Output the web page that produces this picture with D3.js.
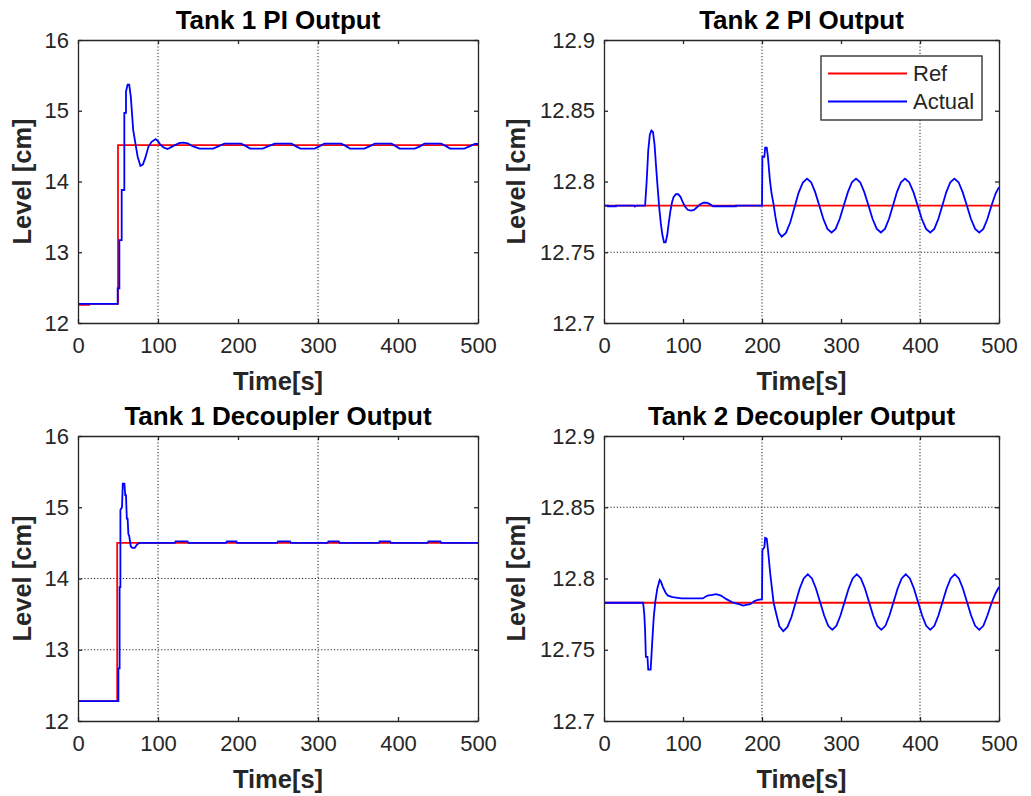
<!DOCTYPE html>
<html>
<head>
<meta charset="utf-8">
<script src="https://cdn.jsdelivr.net/npm/d3@7"></script>
<style>
  body { margin: 0; background: #fff; }
  svg { display: block; font-family: "Liberation Sans", Arial, sans-serif; }
</style>
</head>
<body>
<div id="chart"></div>
<script>
// ---- data ----
const timeTicks = [0, 100, 200, 300, 400, 500];
const tank1Ticks = [12, 13, 14, 15, 16];
const tank2Ticks = [12.7, 12.75, 12.8, 12.85, 12.9];
const tank2TickLabels = ["12.7", "12.75", "12.8", "12.85", "12.9"];
const panelTitles = ["Tank 1 PI Output", "Tank 2 PI Output", "Tank 1 Decoupler Output", "Tank 2 Decoupler Output"];
const legendLabels = ["Ref", "Actual"];
const seriesColors = ["#ff0000", "#0000ff"];

// dotted grid lines that are switched on in each panel
const gridTimes = [[100, 300], [200, 400], [100, 300], [200, 400]];
const gridLevels = [[], [12.75], [13, 14], [12.85]];

const tank1PiRef = [[0,12.255],[14,12.255],[14,12.27],[50,12.27],[50,14.515],[500,14.515]];
const tank1PiActual = [[0,12.27],[49.6,12.27],[49.6,12.49],[51.7,12.49],[51.7,13.17],[54.6,13.17],[54.6,13.88],
  [57.9,13.88],[57.9,14.97],[60,14.97],[60,15.27],[62,15.37],[64,15.37],[66,15.2],[69,14.73],[72,14.52],
  [74.6,14.35],[78,14.22],[81,14.24],[84,14.33],[88,14.49],[92,14.56],[97,14.6],[100,14.57],[103,14.52],
  [107,14.48],[112,14.46],[117,14.49],[122,14.52],[127,14.545],[132,14.55],[137,14.54],[143,14.5],
  [152,14.465],[169,14.465],[176,14.5],[183,14.535],[204,14.535],[210,14.5],[215,14.465],[231,14.465],
  [238,14.5],[246,14.535],[267,14.535],[272,14.5],[278,14.465],[296,14.465],[302,14.5],[308,14.535],
  [329,14.535],[335,14.5],[340,14.465],[358,14.465],[365,14.5],[371,14.535],[392,14.535],[397,14.5],
  [402,14.465],[421,14.465],[428,14.5],[433,14.535],[454,14.535],[460,14.5],[465,14.465],[483,14.465],
  [490,14.5],[496,14.53],[500,14.53]];

const tank2PiRef = [[0,12.783],[500,12.783]];
const tank2PiActual = [[0,12.783],[5,12.783],[5,12.7825],[15,12.7825],[15,12.783],[38,12.783],[39,12.7823],
  [41,12.783],[52,12.783],[54,12.8],[56,12.822],[58,12.833],[60,12.836],[62,12.835],[64,12.826],[66,12.81],
  [68,12.795],[70,12.781],[72,12.77],[74,12.762],[76,12.757],[78,12.757],[80,12.762],[82,12.771],[84,12.779],
  [86,12.785],[88,12.789],[91,12.791],[94,12.791],[97,12.789],[100,12.785],[103,12.782],[106,12.78],
  [110,12.7795],[114,12.78],[118,12.782],[122,12.784],[126,12.785],[130,12.785],[134,12.784],[138,12.7825],
  [167,12.7825],[167,12.783],[200,12.783],[200.5,12.8175],[203,12.8175],[204,12.824],[206,12.824],
  [207.5,12.8175],[210,12.801],[212,12.792],[214.6,12.784],[217,12.775],[219,12.769],[221,12.764],
  [225,12.761],[230.3,12.7637],[235.7,12.771],[241,12.7815],[246.3,12.792],[251.7,12.7993],[257,12.802],
  [262.2,12.7995],[267.3,12.7925],[272.5,12.783],[277.7,12.7735],[282.8,12.7665],[288,12.764],
  [293.2,12.7665],[298.3,12.7735],[303.5,12.783],[308.7,12.7925],[313.8,12.7995],[319,12.802],
  [324.3,12.7995],[329.5,12.7925],[334.8,12.783],[340,12.7735],[345.3,12.7665],[350.5,12.764],
  [355.6,12.7665],[360.7,12.7735],[365.8,12.783],[370.8,12.7925],[375.9,12.7995],[381,12.802],
  [386.3,12.7995],[391.7,12.7925],[397,12.783],[402.3,12.7735],[407.7,12.7665],[413,12.764],
  [418.1,12.7665],[423.2,12.7735],[428.3,12.783],[433.3,12.7925],[438.4,12.7995],[443.5,12.802],
  [448.8,12.7995],[454,12.7925],[459.3,12.783],[464.5,12.7735],[469.8,12.7665],[475,12.764],
  [480.2,12.7665],[485.3,12.7735],[490.5,12.783],[495.7,12.7915],[500,12.796]];

const tank1DecRef = [[0,12.28],[49,12.28],[49,14.5],[500,14.5]];
const tank1DecActual = [[0,12.28],[50.5,12.28],[50.5,12.74],[52,12.74],[52,13.88],[53,13.88],[53,14.96],
  [55,15.0],[56,15.33],[58,15.33],[59,15.17],[60,15.17],[61,14.84],[62,14.84],[63,14.62],[64,14.6],
  [66,14.45],[68,14.43],[71,14.43],[74,14.48],[77,14.5],[121,14.5],[122,14.52],[137,14.52],[138,14.5],
  [185,14.5],[186,14.52],[198,14.52],[199,14.5],[249,14.5],[250,14.52],[265,14.52],[266,14.5],
  [312,14.5],[313,14.52],[326,14.52],[327,14.5],[376,14.5],[377,14.52],[390,14.52],[391,14.5],
  [437,14.5],[438,14.52],[453,14.52],[454,14.5],[500,14.5]];

const tank2DecRef = [[0,12.783],[500,12.783]];
const tank2DecActual = [[0,12.783],[49.5,12.783],[51,12.775],[52,12.764],[53,12.745],[55,12.745],
  [56,12.736],[59,12.736],[60,12.745],[61,12.755],[63,12.773],[65,12.784],[67.5,12.793],[70.5,12.799],
  [72,12.798],[74.6,12.794],[78,12.79],[81,12.788],[87,12.787],[98,12.786],[125,12.786],[131,12.788],
  [137,12.7885],[142,12.789],[148,12.788],[155,12.7855],[163.5,12.783],[172,12.7818],[176,12.781],
  [180,12.7815],[185,12.782],[190,12.784],[193.5,12.7848],[200,12.7855],[200.5,12.82],[203,12.822],
  [204,12.8285],[206,12.828],[207.6,12.82],[210.5,12.803],[214.7,12.783],[219,12.773],[222,12.7665],
  [227,12.763],[232.2,12.766],[237.3,12.773],[242.5,12.783],[247.7,12.793],[252.8,12.8],[258,12.803],
  [263.2,12.8],[268.3,12.793],[273.5,12.7835],[278.7,12.774],[283.8,12.7668],[289,12.764],
  [294.2,12.7668],[299.3,12.774],[304.5,12.7835],[309.7,12.793],[314.8,12.8],[320,12.803],
  [325.2,12.8],[330.3,12.793],[335.5,12.7835],[340.7,12.774],[345.8,12.7668],[351,12.764],
  [356.2,12.7668],[361.3,12.774],[366.5,12.7835],[371.7,12.793],[376.8,12.8],[382,12.803],
  [387.2,12.8],[392.3,12.793],[397.5,12.7835],[402.7,12.774],[407.8,12.7668],[413,12.764],
  [418.2,12.7668],[423.3,12.774],[428.5,12.7835],[433.7,12.793],[438.8,12.8],[444,12.803],
  [449.2,12.8],[454.3,12.793],[459.5,12.7835],[464.7,12.774],[469.8,12.7668],[475,12.764],
  [480.2,12.7668],[485.3,12.774],[491,12.7835],[496,12.79],[500,12.794]];

// ---- layout ----
const W = 1031, H = 796;
const svg = d3.select("#chart").append("svg").attr("width", W).attr("height", H);

const panels = [
  {x0: 78,  x1: 478, y0: 40,  y1: 323, yl: 47, ticks: tank1Ticks, labels: tank1Ticks.map(String), ref: tank1PiRef, act: tank1PiActual},
  {x0: 604, x1: 999, y0: 40,  y1: 323, yl: 79, ticks: tank2Ticks, labels: tank2TickLabels, ref: tank2PiRef, act: tank2PiActual, legend: true},
  {x0: 78,  x1: 478, y0: 436, y1: 721, yl: 47, ticks: tank1Ticks, labels: tank1Ticks.map(String), ref: tank1DecRef, act: tank1DecActual},
  {x0: 604, x1: 999, y0: 436, y1: 721, yl: 79, ticks: tank2Ticks, labels: tank2TickLabels, ref: tank2DecRef, act: tank2DecActual}
];

const axisCol = "#262626";

panels.forEach(function(p, i){
  var x = d3.scaleLinear().domain([0, 500]).range([p.x0, p.x1]);
  var y = d3.scaleLinear().domain([p.ticks[0], p.ticks[p.ticks.length-1]]).range([p.y1, p.y0]);
  var g = svg.append("g").attr("class", "panel" + i);

  g.append("rect").attr("x", p.x0).attr("y", p.y0).attr("width", p.x1 - p.x0).attr("height", p.y1 - p.y0)
    .style("fill", "#fff");

  // grid
  g.selectAll(".vgrid").data(gridTimes[i]).enter().append("line")
    .attr("x1", d => x(d)).attr("x2", d => x(d)).attr("y1", p.y0).attr("y2", p.y1)
    .style("stroke", "#222").style("stroke-width", 1).style("stroke-dasharray", "1.2,2");
  g.selectAll(".hgrid").data(gridLevels[i]).enter().append("line")
    .attr("y1", d => y(d)).attr("y2", d => y(d)).attr("x1", p.x0).attr("x2", p.x1)
    .style("stroke", "#222").style("stroke-width", 1).style("stroke-dasharray", "1.2,2");

  // lines
  var clipId = "clip" + i;
  g.append("clipPath").attr("id", clipId).append("rect")
    .attr("x", p.x0).attr("y", p.y0 - 1).attr("width", p.x1 - p.x0).attr("height", p.y1 - p.y0 + 2);
  var line = d3.line().x(d => x(d[0])).y(d => y(d[1]));
  [p.ref, p.act].forEach(function(s, k){
    g.append("path").datum(s).attr("d", line).attr("clip-path", "url(#" + clipId + ")")
      .style("fill", "none").style("stroke", seriesColors[k]).style("stroke-width", 1.8)
      .style("stroke-linejoin", "miter");
  });

  // axes, ticks inside on all four sides
  var fmtY = function(d){ return p.labels[p.ticks.indexOf(d)]; };
  var bottom = g.append("g").attr("transform", "translate(0," + p.y1 + ")")
    .call(d3.axisBottom(x).tickValues(timeTicks).tickSizeInner(-4).tickSizeOuter(0).tickPadding(14));
  var top = g.append("g").attr("transform", "translate(0," + p.y0 + ")")
    .call(d3.axisTop(x).tickValues(timeTicks).tickSizeInner(-4).tickSizeOuter(0).tickFormat(""));
  var left = g.append("g").attr("transform", "translate(" + p.x0 + ",0)")
    .call(d3.axisLeft(y).tickValues(p.ticks).tickSizeInner(-4).tickSizeOuter(0).tickPadding(9).tickFormat(fmtY));
  var right = g.append("g").attr("transform", "translate(" + p.x1 + ",0)")
    .call(d3.axisRight(y).tickValues(p.ticks).tickSizeInner(-4).tickSizeOuter(0).tickFormat(""));
  [bottom, top, left, right].forEach(function(a){
    a.select(".domain").style("stroke", axisCol).style("stroke-width", 1.3);
    a.selectAll(".tick line").style("stroke", axisCol).style("stroke-width", 1.3);
    a.selectAll("text").style("font-size", "22px").style("fill", axisCol)
      .style("font-family", "'Liberation Sans', Arial, sans-serif");
  });

  // titles and labels
  var cx = (p.x0 + p.x1) / 2;
  g.append("text").attr("x", cx).attr("y", p.y0 - 11).attr("text-anchor", "middle")
    .style("font-size", "26px").style("font-weight", "bold").style("fill", "#000")
    .text(panelTitles[i]);
  g.append("text").attr("x", cx).attr("y", p.y1 + 67).attr("text-anchor", "middle")
    .style("font-size", "25.5px").style("font-weight", "bold").style("fill", axisCol)
    .text("Time[s]");
  var ly = (p.y0 + p.y1) / 2;
  g.append("text").attr("transform", "translate(" + (p.x0 - p.yl) + "," + ly + ") rotate(-90)")
    .attr("text-anchor", "middle")
    .style("font-size", "25.5px").style("font-weight", "bold").style("fill", axisCol)
    .text("Level [cm]");

  // legend
  if (p.legend) {
    var lg = g.append("g");
    lg.append("rect").attr("x", 821).attr("y", 56).attr("width", 161).attr("height", 64)
      .style("fill", "#fff").style("stroke", axisCol).style("stroke-width", 1.3);
    legendLabels.forEach(function(lab, k){
      var yy = 73.5 + k * 28;
      lg.append("line").attr("x1", 828).attr("x2", 907).attr("y1", yy).attr("y2", yy)
        .style("stroke", seriesColors[k]).style("stroke-width", 1.8);
      lg.append("text").attr("x", 913).attr("y", yy).attr("dy", "0.36em")
        .style("font-size", "22px").style("fill", axisCol).text(lab);
    });
  }
});
</script>
</body>
</html>
